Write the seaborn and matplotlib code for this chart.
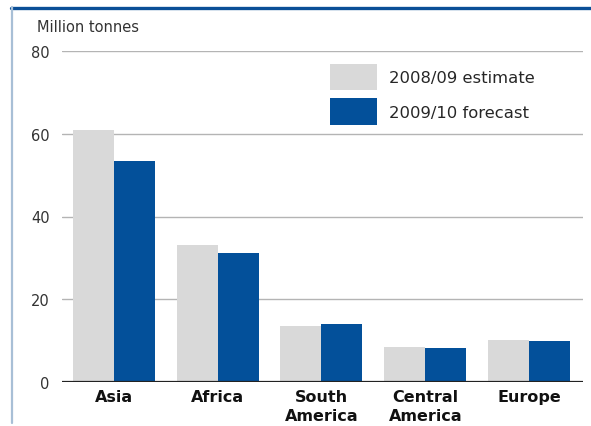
import matplotlib
matplotlib.use("Agg")
import matplotlib.pyplot as plt
from matplotlib.lines import Line2D
from matplotlib.patches import Patch
import seaborn as sns
import pandas as pd

regions = ["Asia", "Africa", "South\nAmerica", "Central\nAmerica", "Europe"]
estimate_2008_09 = [61.0, 33.2, 13.6, 8.4, 10.1]
forecast_2009_10 = [53.5, 31.2, 14.0, 8.2, 10.0]
series_labels = ["2008/09 estimate", "2009/10 forecast"]
y_ticks = [0, 20, 40, 60, 80]

GREY = "#d9d9d9"
BLUE = "#03509a"

df = pd.DataFrame({
    "region": regions * 2,
    "value": estimate_2008_09 + forecast_2009_10,
    "series": [series_labels[0]] * len(regions) + [series_labels[1]] * len(regions),
})

sns.set_theme(style="white")
plt.rcParams["font.family"] = ["DejaVu Sans"]

fig = plt.figure(figsize=(5.91, 4.27), dpi=100)
ax = fig.add_axes([62 / 591, 44 / 427, (583 - 62) / 591, (383 - 52) / 427])

sns.barplot(data=df, x="region", y="value", hue="series",
            palette=[GREY, BLUE], width=0.79, gap=0, saturation=1,
            linewidth=0, ax=ax, legend=False, zorder=2)

ax.set_ylim(0, 80)
ax.set_xlim(-0.5, 4.52)
ax.set_yticks(y_ticks)
ax.set_yticklabels([str(t) for t in y_ticks], fontsize=10.5, color="#333333")
ax.tick_params(axis="y", length=0, pad=9)
ax.tick_params(axis="x", length=0, pad=5)
for lab in ax.get_xticklabels():
    lab.set_fontweight("bold")
    lab.set_fontsize(11.5)
    lab.set_color("#111111")
    lab.set_linespacing(1.3)
ax.set_xlabel("")
ax.set_ylabel("")

for t in y_ticks[1:]:
    ax.axhline(t, color="#b4b4b4", linewidth=1.0, zorder=1)
ax.axhline(0, color="#222222", linewidth=1.6, zorder=3)

for s in ax.spines.values():
    s.set_visible(False)

fig.text(37 / 591, 1 - 27.5 / 427, "Million tonnes", fontsize=10.5,
         color="#333333", va="center", ha="left")

handles = [Patch(facecolor=GREY, edgecolor="none"),
           Patch(facecolor=BLUE, edgecolor="none")]
leg = ax.legend(handles, series_labels, loc="upper left",
                bbox_to_anchor=(0.514, 0.961), frameon=False,
                fontsize=11.8, handlelength=2.9, handleheight=2.1,
                handletextpad=0.7, labelspacing=0.5, borderaxespad=0,
                borderpad=0)

# frame lines around the panel
fig.add_artist(Line2D([11 / 591, 1], [1 - 8.5 / 427] * 2, color="#0b4f97",
                      linewidth=2.4, transform=fig.transFigure))
fig.add_artist(Line2D([11.5 / 591] * 2, [1 - 8 / 427, 1 - 424 / 427],
                      color="#a8bfd6", linewidth=1.6, transform=fig.transFigure))

fig.savefig("out.png", dpi=100)
